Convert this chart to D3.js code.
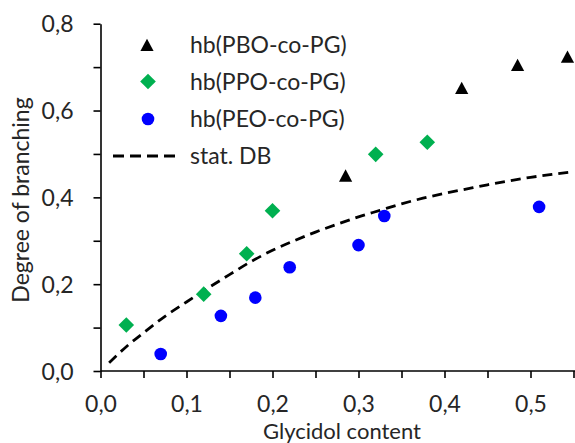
<!DOCTYPE html>
<html>
<head>
<meta charset="utf-8">
<script src="https://cdn.jsdelivr.net/npm/d3@7"></script>
<style>
  html, body { margin: 0; padding: 0; background: #fff; }
  svg { display: block; }
  text { font-family: Lato, "Open Sans", sans-serif; fill: #262626; }
</style>
</head>
<body>
<svg id="chart" width="575" height="443"></svg>
<script>
// Degree of branching vs. glycidol content for three hyperbranched copolymers
const pboX = [0.285, 0.42, 0.485, 0.543];
const pboY = [0.45, 0.652, 0.705, 0.724];

const ppoX = [0.03, 0.12, 0.17, 0.20, 0.32, 0.38];
const ppoY = [0.106, 0.177, 0.27, 0.369, 0.499, 0.527];

const peoX = [0.07, 0.14, 0.18, 0.22, 0.30, 0.33, 0.51];
const peoY = [0.039, 0.127, 0.169, 0.239, 0.29, 0.357, 0.378];

// statistical degree of branching (dashed curve)
const statX = [0.01, 0.03, 0.05, 0.075, 0.1, 0.125, 0.15, 0.175, 0.2, 0.225, 0.25, 0.275,
               0.3, 0.325, 0.35, 0.375, 0.4, 0.425, 0.45, 0.475, 0.5, 0.525, 0.55];
const statY = [0.019, 0.056, 0.088, 0.126, 0.159, 0.191, 0.222, 0.252, 0.278, 0.300, 0.320, 0.338,
               0.355, 0.370, 0.385, 0.398, 0.409, 0.419, 0.429, 0.438, 0.446, 0.453, 0.459];

const xMajorTicks = [0, 0.1, 0.2, 0.3, 0.4, 0.5];
const xAllTicks = [0, 0.05, 0.1, 0.15, 0.2, 0.25, 0.3, 0.35, 0.4, 0.45, 0.5, 0.55];
const yMajorTicks = [0, 0.2, 0.4, 0.6, 0.8];
const yAllTicks = [0, 0.1, 0.2, 0.3, 0.4, 0.5, 0.6, 0.7, 0.8];

const seriesNames = ["hb(PBO-co-PG)", "hb(PPO-co-PG)", "hb(PEO-co-PG)", "stat. DB"];
const xTitle = "Glycidol content";
const yTitle = "Degree of branching";

const locale = d3.formatLocale({ decimal: ",", thousands: ".", grouping: [3], currency: ["", " €"] });
const fmt = locale.format(".1f");

const svg = d3.select("#chart");
const x = d3.scaleLinear().domain([0, 0.55]).range([100.5, 573.5]);
const y = d3.scaleLinear().domain([0, 0.8]).range([371, 23.7]);

// axes
const xAxis = d3.axisBottom(x).tickValues(xAllTicks).tickSize(7).tickSizeOuter(0)
  .tickFormat(d => xMajorTicks.some(t => Math.abs(t - d) < 1e-9) ? fmt(d) : "");
const gx = svg.append("g").attr("transform", `translate(0,${y(0)})`).call(xAxis);
gx.select(".domain").attr("d", `M${x(0)},0H575`);

const yAxis = d3.axisLeft(y).tickValues(yAllTicks).tickSize(7).tickSizeOuter(0)
  .tickFormat(d => yMajorTicks.some(t => Math.abs(t - d) < 1e-9) ? fmt(d) : "");
const gy = svg.append("g").attr("transform", `translate(${x(0)},0)`).call(yAxis);

[gx, gy].forEach(g => {
  g.selectAll(".domain, .tick line").attr("stroke", "#000").attr("stroke-width", 1.6);
  g.selectAll(".tick text").style("font-size", "23px").attr("fill", "#262626");
});
gx.selectAll(".tick text").attr("dy", 0).attr("y", 40.5);
gy.selectAll(".tick text").attr("x", -27).attr("dy", "0.36em");

// axis titles
svg.append("text").attr("x", 342).attr("y", 438.5).attr("text-anchor", "middle")
  .style("font-size", "22px").text(xTitle);
svg.append("text").attr("transform", "translate(29,200) rotate(-90)").attr("text-anchor", "middle")
  .style("font-size", "23px").text(yTitle);

// marker shapes
const triPath = "M0,-6.3L6.6,6L-6.6,6Z";
const diamondPath = "M0,-7.8L7.8,0L0,7.8L-7.8,0Z";

const statLine = d3.line().x(d => x(d[0])).y(d => y(d[1])).curve(d3.curveMonotoneX);
svg.append("path").datum(d3.zip(statX, statY)).attr("d", statLine)
  .attr("fill", "none").attr("stroke", "#000").attr("stroke-width", 2.8)
  .attr("stroke-dasharray", "10,6");

svg.append("g").selectAll("path").data(d3.zip(ppoX, ppoY)).join("path")
  .attr("transform", d => `translate(${x(d[0])},${y(d[1])})`)
  .attr("d", diamondPath).attr("fill", "#00b050");

svg.append("g").selectAll("circle").data(d3.zip(peoX, peoY)).join("circle")
  .attr("cx", d => x(d[0])).attr("cy", d => y(d[1])).attr("r", 6.3).attr("fill", "#0000ff");

svg.append("g").selectAll("path").data(d3.zip(pboX, pboY)).join("path")
  .attr("transform", d => `translate(${x(d[0])},${y(d[1])})`)
  .attr("d", triPath).attr("fill", "#000");

// legend
const legend = svg.append("g");
const rowsY = [45, 81.5, 119, 156];
legend.append("path").attr("transform", `translate(147,${rowsY[0]})`).attr("d", triPath).attr("fill", "#000");
legend.append("path").attr("transform", `translate(148,${rowsY[1]})`).attr("d", diamondPath).attr("fill", "#00b050");
legend.append("circle").attr("cx", 148).attr("cy", rowsY[2]).attr("r", 6.3).attr("fill", "#0000ff");
legend.append("line").attr("x1", 113).attr("x2", 180).attr("y1", rowsY[3]).attr("y2", rowsY[3])
  .attr("stroke", "#000").attr("stroke-width", 2.8).attr("stroke-dasharray", "11,6");
seriesNames.forEach((name, i) => {
  legend.append("text").attr("x", 190).attr("y", rowsY[i]).attr("dy", "0.36em")
    .style("font-size", "23px").text(name);
});
</script>
</body>
</html>
